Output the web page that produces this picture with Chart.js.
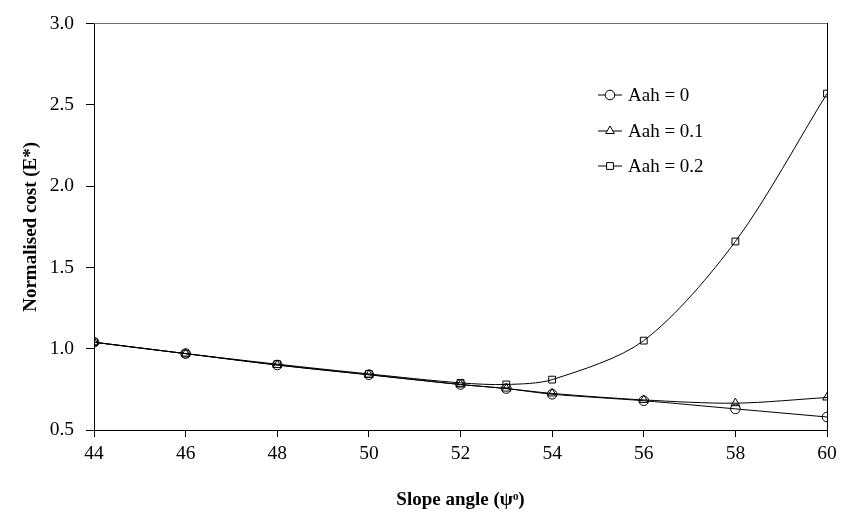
<!DOCTYPE html>
<html>
<head>
<meta charset="utf-8">
<script src="https://cdn.jsdelivr.net/npm/chart.js@4.4.1/dist/chart.umd.min.js"></script>
<style>
  html, body { margin: 0; padding: 0; background: #fff; }
  #wrap { width: 844px; height: 528px; position: relative; }
</style>
</head>
<body>
<div id="wrap"><canvas id="chart"></canvas></div>
<script>
const slopeAngles = [44, 46, 48, 50, 52, 53, 54, 56, 58, 60];
const costAah0 = [1.04, 0.97, 0.90, 0.84, 0.78, 0.755, 0.72, 0.68, 0.63, 0.58];
const costAah01 = [1.04, 0.97, 0.90, 0.84, 0.78, 0.755, 0.725, 0.685, 0.665, 0.70];
const costAah02 = [1.04, 0.97, 0.905, 0.845, 0.79, 0.78, 0.81, 1.05, 1.66, 2.57];
const seriesLabels = ['Aah = 0', 'Aah = 0.1', 'Aah = 0.2'];
const seriesMarkers = ['circle', 'triangle', 'rect'];

const serif = "'Liberation Serif', 'Times New Roman', serif";

function toPoints(vals) {
    return slopeAngles.map((x, i) => ({ x: x, y: vals[i] }));
}

function makeSet(label, vals, marker) {
    return {
        label: label,
        data: toPoints(vals),
        borderColor: '#000',
        borderWidth: 1,
        pointStyle: marker,
        pointRadius: marker === 'triangle' ? 5 : 4.8,
        pointBorderColor: '#000',
        pointBackgroundColor: 'rgba(0,0,0,0)',
        pointBorderWidth: 1,
        tension: 0.3,
        fill: false
    };
}

// legend drawn inside the plot, like the original
const innerLegend = {
    id: 'innerLegend',
    afterDatasetsDraw(c) {
        const ctx = c.ctx;
        const rows = [95, 131, 166];
        const x0 = 598;
        ctx.save();
        c.data.datasets.forEach((ds, i) => {
            const y = rows[i];
            ctx.strokeStyle = '#000';
            ctx.lineWidth = 1;
            ctx.beginPath();
            ctx.moveTo(x0, y);
            ctx.lineTo(x0 + 24, y);
            ctx.stroke();
            ctx.fillStyle = '#fff';
            Chart.helpers.drawPoint(ctx, {
                pointStyle: ds.pointStyle,
                radius: ds.pointRadius,
                borderWidth: 1,
                rotation: 0
            }, x0 + 12, y);
            ctx.fillStyle = '#000';
            ctx.font = "19px " + serif;
            ctx.textBaseline = 'middle';
            ctx.fillText(ds.label, x0 + 30, y + 1);
        });
        ctx.restore();
    }
};

new Chart(document.getElementById('chart'), {
    type: 'line',
    data: {
        datasets: [
            makeSet(seriesLabels[0], costAah0, seriesMarkers[0]),
            makeSet(seriesLabels[1], costAah01, seriesMarkers[1]),
            makeSet(seriesLabels[2], costAah02, seriesMarkers[2])
        ]
    },
    options: {
        responsive: true,
        maintainAspectRatio: false,
        animation: false,
        layout: { padding: { left: 0, right: 17, top: 18, bottom: 0 } },
        plugins: {
            legend: { display: false },
            tooltip: { enabled: false }
        },
        scales: {
            x: {
                type: 'linear',
                min: 44, max: 60,
                afterFit: s => { s.height = 98; },
                ticks: { stepSize: 2, color: '#000', padding: 5, font: { family: serif, size: 19.5 } },
                grid: { drawOnChartArea: false, tickLength: 7, tickColor: '#000' },
                border: { color: '#000', width: 1 },
                title: {
                    display: true,
                    text: 'Slope angle (\u03C8\u1D52)',
                    color: '#000',
                    font: { family: serif, size: 19, weight: 'bold' },
                    padding: { top: 0, bottom: 17 }
                }
            },
            y: {
                min: 0.5, max: 3.0,
                afterFit: s => { s.width = 94; },
                ticks: {
                    stepSize: 0.5, color: '#000', padding: 12,
                    font: { family: serif, size: 19.5 },
                    callback: v => v.toFixed(1)
                },
                grid: { drawOnChartArea: false, tickLength: 8, tickColor: '#000' },
                border: { color: '#000', width: 1 },
                title: {
                    display: true,
                    text: 'Normalised cost (E*)',
                    color: '#000',
                    font: { family: serif, size: 19, weight: 'bold' },
                    padding: { top: 20, bottom: 0 }
                }
            },
            xTop: {
                type: 'linear',
                position: 'top',
                min: 44, max: 60,
                afterFit: s => { s.height = 0; },
                ticks: { display: false },
                grid: { display: false },
                border: { color: '#707070', width: 1 }
            },
            yRight: {
                position: 'right',
                min: 0.5, max: 3.0,
                afterFit: s => { s.width = 0; },
                ticks: { display: false },
                grid: { display: false },
                border: { color: '#000', width: 1 }
            }
        }
    },
    plugins: [innerLegend]
});
</script>
</body>
</html>
